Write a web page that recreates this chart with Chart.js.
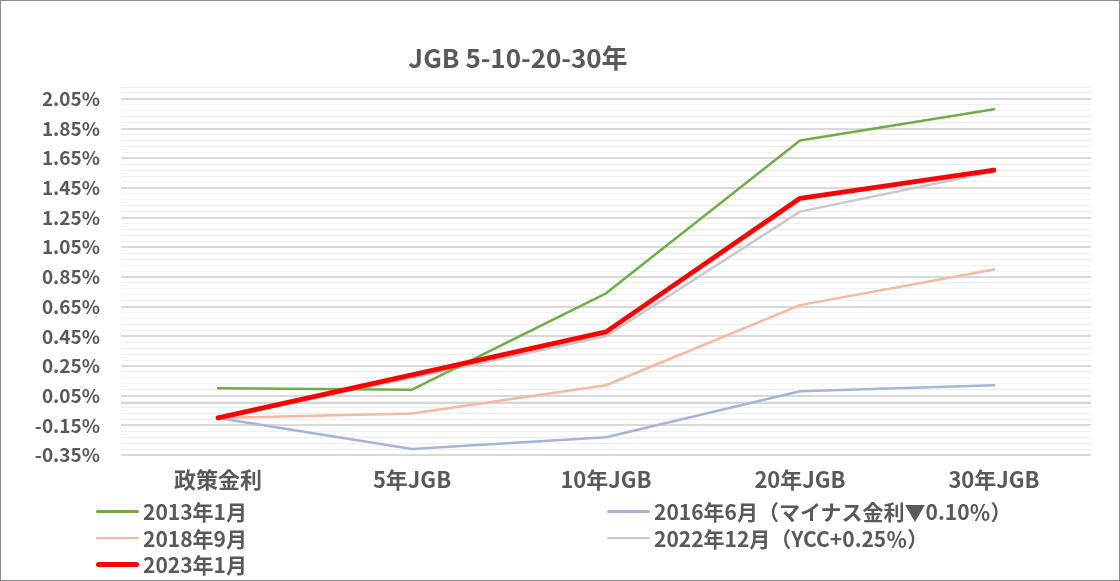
<!DOCTYPE html>
<html lang="ja">
<head>
<meta charset="utf-8">
<title>JGB 5-10-20-30年</title>
<script src="https://cdn.jsdelivr.net/npm/chart.js@4/dist/chart.umd.min.js"></script>
<style>
  html, body { margin: 0; padding: 0; background: #fff; }
  .contenedor { position: relative; width: 1120px; height: 581px; overflow: hidden;
    font-family: "Noto Sans CJK JP", "Noto Sans", sans-serif; color: #595959; }
  .contenedor canvas { position: absolute; left: 0; top: 0; }
  .marco { position: absolute; left: 0; top: 0; width: 1118px; height: 579px;
    border: 1px solid #8c8c8c; pointer-events: none; }
  .titulo { position: absolute; left: 318px; top: 40px; width: 400px; text-align: center;
    font-size: 26px; font-weight: bold; line-height: 34px; }
  .leyenda { position: absolute; left: 96px; top: 498px; display: grid;
    grid-template-columns: 511px auto; grid-auto-rows: 26.5px; }
  .item { display: flex; align-items: center; font-size: 21px; font-weight: bold; white-space: nowrap; }
  .muestra { width: 43px; margin-right: 4px; border-radius: 3px; }
</style>
</head>
<body>
<div class="contenedor">
  <canvas id="grafico" width="1120" height="581"></canvas>
  <div class="titulo" id="titulo"></div>
  <div class="leyenda" id="leyenda"></div>
  <div class="marco"></div>
</div>
<script>
const titulo = 'JGB 5-10-20-30年'
const categorias = ['政策金利', '5年JGB', '10年JGB', '20年JGB', '30年JGB']

const etiquetasSeries = [
  '2013年1月',
  '2016年6月（マイナス金利▼0.10％）',
  '2018年9月',
  '2022年12月（YCC+0.25％）',
  '2023年1月'
]
const enero2013 = [0.10, 0.09, 0.74, 1.77, 1.98]
const junio2016 = [-0.10, -0.31, -0.23, 0.08, 0.12]
const septiembre2018 = [-0.10, -0.07, 0.12, 0.66, 0.90]
const diciembre2022 = [-0.10, 0.17, 0.45, 1.29, 1.56]
const enero2023 = [-0.10, 0.19, 0.48, 1.38, 1.57]

const ticksY = [-0.35, -0.15, 0.05, 0.25, 0.45, 0.65, 0.85, 1.05, 1.25, 1.45, 1.65, 1.85, 2.05]
const minY = -0.35
const maxY = 2.13

const colores = ['#70ad47', '#a5b5d9', '#f3b9a2', '#c9c9c9', '#ff0000']
const grosores = [2.5, 2.5, 2.5, 2.5, 4.75]

// lineas finas cada 0.04 entre las principales, mas la linea del cero
const construirTicksMenores = () => {
  const lista = [0]
  for (let i = 0; minY + i * 0.04 <= maxY + 1e-9; i++) {
    if (i % 5 !== 0) lista.push(Math.round((minY + i * 0.04) * 100) / 100)
  }
  return lista
}

const construirDataset = (datos, i) => ({
  label: etiquetasSeries[i],
  data: datos,
  borderColor: colores[i],
  backgroundColor: colores[i],
  borderWidth: grosores[i],
  borderCapStyle: 'round',
  borderJoinStyle: 'round',
  pointRadius: 0,
  pointHoverRadius: 0,
  tension: 0,
  order: i === 4 ? 0 : 1
})

const series = [enero2013, junio2016, septiembre2018, diciembre2022, enero2023]

const fuente = (size) => ({ family: '"Noto Sans CJK JP", "Noto Sans", sans-serif', size: size, weight: 'bold' })

const grafico = new Chart(document.querySelector('#grafico'), {
  type: 'line',
  data: {
    labels: categorias,
    datasets: series.map(construirDataset)
  },
  options: {
    responsive: false,
    animation: false,
    layout: { padding: { top: 87, right: 29, left: 0, bottom: 0 } },
    plugins: {
      legend: { display: false },
      title: { display: false },
      tooltip: { enabled: false }
    },
    scales: {
      x: {
        offset: true,
        grid: { display: false, drawTicks: false },
        border: { display: false },
        ticks: { color: '#595959', font: fuente(22), padding: 11, maxRotation: 0 },
        afterFit: (escala) => { escala.height = 126 }
      },
      yMenor: {
        position: 'left',
        min: minY,
        max: maxY,
        afterBuildTicks: (escala) => { escala.ticks = construirTicksMenores().map(v => ({ value: v })) },
        afterFit: (escala) => { escala.width = 0 },
        ticks: { display: false },
        border: { display: false },
        grid: {
          drawTicks: false,
          color: (ctx) => ctx.tick && ctx.tick.value === 0 ? '#d6d6d6' : '#efefef',
          lineWidth: (ctx) => ctx.tick && ctx.tick.value === 0 ? 2 : 1
        }
      },
      y: {
        position: 'left',
        min: minY,
        max: maxY,
        afterBuildTicks: (escala) => { escala.ticks = ticksY.map(v => ({ value: v })) },
        afterFit: (escala) => { escala.width = 121 },
        ticks: {
          color: '#595959',
          font: fuente(19),
          padding: 21,
          callback: (valor) => valor.toFixed(2) + '%'
        },
        border: { display: false },
        grid: { drawTicks: false, color: '#d9d9d9', lineWidth: 2 }
      }
    }
  }
})

const construirLeyenda = () => {
  document.querySelector('#titulo').textContent = titulo
  const leyenda = document.querySelector('#leyenda')
  grafico.data.datasets.forEach((ds) => {
    leyenda.innerHTML += `<div class="item"><span class="muestra" style="height:${ds.borderWidth}px;background:${ds.borderColor}"></span>${ds.label}</div>`
  })
}

construirLeyenda()
</script>
</body>
</html>
